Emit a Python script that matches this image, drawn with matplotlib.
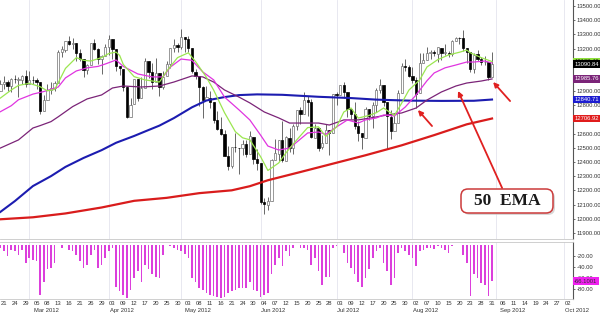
import numpy as np
import pandas as pd
import matplotlib
matplotlib.use("Agg")
import matplotlib.pyplot as plt
from matplotlib.patches import FancyBboxPatch
from matplotlib.transforms import IdentityTransform, blended_transform_factory

# ---------------- data (DJIA daily, Feb 17 2012 .. Aug 31 2012) ----------------
opens = [12904, 12950, 12965, 12938, 12984, 12981, 12981, 13005, 12952, 12980,
         12977, 12962, 12760, 12838, 12907, 12922, 12960, 13178, 13193, 13253,
         13233, 13239, 13170, 13124, 13046, 13081, 13241, 13197, 13126, 13146,
         13211, 13264, 13199, 13074, 13057, 12929, 12716, 12806, 12985, 12850,
         12921, 13113, 13032, 12964, 13028, 12928, 13003, 13090, 13204, 13228,
         13214, 13279, 13268, 13206, 13035, 13008, 12932, 12835, 12854, 12820,
         12695, 12632, 12598, 12442, 12369, 12504, 12502, 12496, 12530, 12455,
         12580, 12419, 12391, 12118, 12101, 12127, 12415, 12460, 12553, 12411,
         12573, 12496, 12652, 12767, 12742, 12838, 12824, 12573, 12640, 12503,
         12535, 12626, 12604, 12880, 12871, 12943, 12896, 12772, 12736, 12653,
         12604, 12573, 12777, 12727, 12805, 12909, 12943, 12822, 12721, 12617,
         12677, 12889, 13075, 13073, 13008, 12976, 12885, 13096, 13118, 13167,
         13175, 13165, 13207, 13169, 13172, 13165, 13250, 13275, 13272, 13203,
         13173, 13057, 13158, 13124, 13103, 13107, 13002]
highs = [12980, 13005, 12976, 12992, 13016, 13002, 13013, 13052, 13040, 13010,
         12995, 12962, 12876, 12951, 12962, 12969, 13193, 13215, 13254, 13289,
         13275, 13239, 13195, 13124, 13092, 13242, 13264, 13206, 13155, 13229,
         13297, 13265, 13199, 13076, 13057, 12939, 12850, 12986, 12985, 12998,
         13131, 13115, 13098, 13133, 13028, 13043, 13114, 13205, 13268, 13239,
         13338, 13279, 13286, 13206, 13058, 13008, 12933, 12938, 12903, 12820,
         12760, 12716, 12624, 12510, 12504, 12606, 12502, 12556, 12557, 12619,
         12580, 12493, 12391, 12144, 12156, 12420, 12563, 12555, 12688, 12582,
         12638, 12665, 12768, 12787, 12895, 12866, 12843, 12668, 12640, 12588,
         12670, 12627, 12880, 12893, 12944, 12962, 12896, 12772, 12822, 12691,
         12604, 12786, 12777, 12826, 12921, 12986, 12943, 12822, 12769, 12743,
         12908, 13098, 13128, 13081, 13072, 12998, 13169, 13167, 13214, 13192,
         13189, 13208, 13207, 13235, 13185, 13260, 13281, 13280, 13330, 13204,
         13173, 13171, 13188, 13141, 13147, 13107, 13176]
lows = [12904, 12914, 12903, 12896, 12956, 12861, 12947, 12932, 12952, 12951,
        12913, 12740, 12760, 12838, 12880, 12903, 12960, 13142, 13178, 13225,
        13195, 13114, 13115, 12996, 13021, 13081, 13190, 13091, 13021, 13146,
        13155, 13123, 13039, 13016, 12900, 12710, 12716, 12806, 12831, 12850,
        12921, 12992, 12914, 12964, 12868, 12917, 13003, 13060, 13175, 13175,
        13196, 13175, 13173, 13030, 12988, 12797, 12710, 12835, 12781, 12678,
        12624, 12589, 12440, 12345, 12359, 12472, 12314, 12450, 12433, 12455,
        12384, 12343, 12107, 12035, 12063, 12127, 12415, 12406, 12404, 12411,
        12468, 12455, 12629, 12665, 12742, 12726, 12571, 12573, 12478, 12489,
        12535, 12447, 12604, 12802, 12871, 12853, 12718, 12707, 12630, 12551,
        12492, 12573, 12694, 12643, 12753, 12885, 12795, 12492, 12566, 12617,
        12677, 12889, 13040, 12997, 12956, 12778, 12885, 13096, 13117, 13126,
        13148, 13106, 13116, 13153, 13140, 13150, 13250, 13234, 13182, 13095,
        13032, 13029, 13114, 13082, 13087, 12981, 13002]
closes = [12949.87, 12965.69, 12938.67, 12984.69, 12982.95, 12981.51, 13005.12, 12952.07, 12980.30, 12977.57,
          12962.81, 12759.15, 12837.33, 12907.94, 12922.02, 12959.71, 13177.68, 13194.10, 13252.76, 13232.62,
          13239.13, 13170.19, 13124.62, 13046.14, 13080.73, 13241.63, 13197.73, 13126.21, 13145.82, 13212.04,
          13264.49, 13199.55, 13074.75, 13060.14, 12929.59, 12715.93, 12805.39, 12986.58, 12849.59, 12921.41,
          13115.54, 13032.75, 12964.10, 13029.26, 12927.17, 13001.56, 13090.72, 13204.62, 13228.31, 13213.63,
          13279.32, 13268.57, 13206.59, 13038.27, 13008.53, 12932.09, 12835.06, 12855.04, 12820.60, 12695.35,
          12632.00, 12598.55, 12442.49, 12369.38, 12504.48, 12502.81, 12496.15, 12529.75, 12454.83, 12580.69,
          12419.86, 12393.45, 12118.57, 12101.46, 12127.95, 12414.79, 12460.96, 12554.20, 12411.23, 12573.80,
          12496.38, 12651.91, 12767.17, 12741.82, 12837.33, 12824.39, 12573.57, 12640.78, 12502.66, 12534.67,
          12627.01, 12602.26, 12880.09, 12871.39, 12943.82, 12896.67, 12772.47, 12736.29, 12653.12, 12604.53,
          12573.27, 12777.09, 12727.21, 12805.54, 12908.70, 12943.36, 12822.57, 12721.46, 12617.32, 12676.05,
          12887.93, 13075.66, 13073.01, 13008.68, 12976.13, 12878.88, 13096.17, 13117.51, 13168.60, 13175.64,
          13165.19, 13207.95, 13169.43, 13172.14, 13164.78, 13250.11, 13275.20, 13271.64, 13203.58, 13172.76,
          13057.46, 13157.97, 13124.67, 13102.99, 13107.48, 13000.71, 13090.84]

# oscillator (lower panel)
osc = [-6, -12, -21, -9, -12, -18, -9, -33, -24, -27,
       -30, -91, -67, -45, -42, -33, -1, -6, -1, -9,
       -11, -18, -30, -42, -36, -18, -9, -42, -36, -24,
       -12, -6, -76, -85, -91, -96, -82, -61, -48, -67,
       -36, -45, -54, -58, -61, -18, -1, -3, -6, -9,
       -12, -17, -24, -61, -67, -79, -82, -88, -91, -94,
       -95, -96, -95, -88, -85, -82, -79, -79, -78, -67,
       -82, -85, -95, -91, -88, -54, -36, -24, -39, -12,
       -21, -6, -1, -6, -6, -9, -36, -24, -48, -73,
       -58, -58, -6, -3, -1, -15, -33, -42, -54, -67,
       -76, -61, -45, -24, -12, -6, -33, -48, -73, -61,
       -15, -6, -12, -18, -24, -39, -12, -9, -6, -6,
       -7, -3, -6, -9, -15, -3, -1, -1, -18, -33,
       -94, -54, -61, -70, -73, -94, -66.1001]

# moving-average lines, sampled at bar positions (bar 0 = Feb 21)
green_idx = [-1, 2, 4, 7, 10, 12, 14, 15, 17, 20, 22, 24, 27, 29, 31, 32, 33, 36, 39, 43,
             45, 48, 51, 53, 56, 58, 61, 64, 66, 68, 71, 73, 76, 78, 81, 84, 87, 89, 92, 94,
             96, 98, 101, 103, 105, 108, 110, 112, 115, 117, 120, 123, 126, 128, 129, 132, 135]
green_val = [12851, 12908, 12940, 12955, 12931, 12902, 12912, 12959, 13060, 13136,
             13117, 13112, 13136, 13165, 13175, 13151, 13088, 13002, 12979, 12964,
             13040, 13136, 13170, 13108, 12997, 12907, 12748, 12614, 12571, 12557,
             12437, 12341, 12394, 12465, 12557, 12643, 12648, 12581, 12648, 12753,
             12781, 12710, 12729, 12748, 12781, 12729, 12815, 12907, 12979, 13070,
             13122, 13155, 13174, 13189, 13170, 13136, 13108.40]
magenta_idx = [-1, 2, 4, 8, 11, 15, 17, 20, 23, 26, 28, 31, 33, 37, 41, 44, 46, 49, 52, 55,
               58, 61, 65, 68, 71, 73, 76, 79, 81, 84, 87, 89, 92, 95, 98, 100, 103, 105, 108,
               111, 114, 117, 119, 122, 125, 128, 130, 133, 135]
magenta_val = [12755, 12797, 12839, 12879, 12897, 12929, 12993, 13042, 13064, 13074,
               13091, 13119, 13074, 13021, 13000, 13000, 13069, 13126, 13117, 13035,
               12979, 12858, 12768, 12697, 12589, 12513, 12485, 12499, 12541, 12605,
               12612, 12595, 12648, 12697, 12675, 12697, 12711, 12732, 12725, 12788,
               12873, 12973, 13028, 13064, 13084, 13105, 13105, 13112, 13098]
ema50_idx = [-1, 4, 8, 10, 13, 15, 19, 23, 27, 30, 33, 38, 43, 47, 52, 55, 58, 61, 65, 68,
             72, 76, 79, 83, 87, 90, 94, 98, 103, 106, 110, 114, 117, 121, 125, 128, 132, 135]
ema50_val = [12499, 12556, 12640, 12657, 12685, 12719, 12791, 12845, 12873, 12922,
             12936, 12929, 12936, 12964, 13007, 13000, 12964, 12908, 12858, 12817,
             12753, 12711, 12675, 12675, 12675, 12661, 12697, 12697, 12718, 12732,
             12746, 12781, 12837, 12894, 12936, 12957, 12971, 12985.76]
blue_idx = [-1, 3, 8, 13, 17, 22, 27, 31, 36, 40, 43, 47, 52, 56, 61, 65, 70, 77, 87, 96,
            103, 112, 121, 130, 135]
blue_val = [12049, 12125, 12231, 12301, 12366, 12429, 12484, 12536, 12584, 12626,
            12657, 12710, 12786, 12834, 12858, 12872, 12877, 12874, 12860, 12851,
            12840, 12833, 12831, 12832, 12840.71]
red_idx = [-1, 8, 17, 27, 36, 45, 54, 63, 68, 73, 82, 91, 100, 110, 119, 128, 135]
red_val = [11997, 12011, 12038, 12080, 12127, 12148, 12181, 12201, 12230, 12272,
           12330, 12389, 12448, 12518, 12590, 12666, 12706.92]

price_ticks = list(range(11900, 13501, 100))
osc_ticks = [-20, -40, -60, -80]
callout_text = "50  EMA"

# ---------------- calendar ----------------
holidays = ["2012-02-20", "2012-04-06", "2012-05-28", "2012-07-04", "2012-09-03"]
dates = pd.bdate_range("2012-02-17", "2012-10-05", freq="C", holidays=holidays)
date_pos = np.arange(len(dates)) - 1          # Feb 17 -> -1, Feb 21 -> 0

SANS = ["Liberation Sans", "DejaVu Sans"]
FS = 4.2

fig = plt.figure(figsize=(6.0, 3.13), dpi=100)
fig.patch.set_facecolor("white")
ax = fig.add_axes([0.0, 1 - 239 / 313, 573 / 600, 239 / 313])
ax2 = fig.add_axes([0.0, 1 - 299 / 313, 573 / 600, 57 / 313])

XL = (-1.107, 157.4)
for a in (ax, ax2):
    a.set_xlim(*XL)
    a.set_facecolor("white")
    for s in ("left", "top"):
        a.spines[s].set_visible(False)
    a.spines["right"].set_color("#555555")
    a.spines["right"].set_linewidth(0.8)
    a.spines["bottom"].set_color("#c8c8c8")
    a.spines["bottom"].set_linewidth(0.6)
    a.set_xticks([])
ax2.spines["top"].set_visible(True)
ax2.spines["top"].set_color("#c8c8c8")
ax2.spines["top"].set_linewidth(0.6)

# faint month grid
for i in range(1, len(dates)):
    if dates[i].month != dates[i - 1].month:
        for a in (ax, ax2):
            a.axvline(date_pos[i], color="#e4e4ee", lw=0.6, zorder=0)

# ---------------- candles ----------------
o = np.array(opens, float)
h = np.array(highs, float)
l = np.array(lows, float)
c = np.array(closes, float)
bx = date_pos[:len(c)]
up = c >= o
ax.vlines(bx, l, h, color="#404040", lw=0.55, zorder=3)
ax.bar(bx[up], np.maximum(c - o, 2)[up], bottom=o[up], width=0.62,
       color="white", edgecolor="#707070", linewidth=0.5, zorder=4)
ax.bar(bx[~up], np.maximum(o - c, 2)[~up], bottom=c[~up], width=0.62,
       color="black", edgecolor="black", linewidth=0.5, zorder=4)

# ---------------- MA lines ----------------
ax.plot(red_idx, red_val, color="#d91c1c", lw=1.6, zorder=5)
ax.plot(blue_idx, blue_val, color="#1c1cb0", lw=1.5, zorder=5)
ax.plot(ema50_idx, ema50_val, color="#7b2478", lw=0.9, zorder=6)
ax.plot(magenta_idx, magenta_val, color="#e035e0", lw=0.9, zorder=6)
ax.plot(green_idx, green_val, color="#9be650", lw=0.9, zorder=6)

ax.set_ylim(11858, 13542)
ax.yaxis.tick_right()
ax.set_yticks(price_ticks)
ax.set_yticklabels([f"{v:.2f}" for v in price_ticks])
ax.tick_params(axis="y", length=1.5, width=0.5, pad=1.0, labelsize=FS,
               colors="#333333")
for t in ax.get_yticklabels():
    t.set_family(SANS)


def value_box(a, y, text, fc, tc="white"):
    a.text(1.002, y, text, transform=a.get_yaxis_transform(), ha="left",
           va="center", fontsize=FS, color=tc, family=SANS,
           bbox=dict(boxstyle="square,pad=0.2", fc=fc, ec="none"),
           clip_on=False, zorder=20)


value_box(ax, green_val[-1], f"{green_val[-1]:.2f}", "#8fe03a", "#222222")
value_box(ax, closes[-1], f"{closes[-1]:.2f}", "black")
value_box(ax, ema50_val[-1], f"{ema50_val[-1]:.2f}", "#7b2478")
value_box(ax, blue_val[-1], f"{blue_val[-1]:.2f}", "#1c1cd0")
value_box(ax, red_val[-1], f"{red_val[-1]:.2f}", "#e01c1c")

# ---------------- annotation: arrows + callout ----------------
akw = dict(arrowstyle="-|>", color="#e02020", lw=1.3, mutation_scale=7,
           shrinkA=0, shrinkB=0)
ax.annotate("", xy=(114.5, 12767), xytext=(118.4, 12654), arrowprops=akw,
            annotation_clip=False, zorder=8)
ax.annotate("", xy=(125.6, 12901), xytext=(137.8, 12217), arrowprops=akw,
            annotation_clip=False, zorder=8)
ax.annotate("", xy=(135.3, 12964), xytext=(140.0, 12830), arrowprops=akw,
            annotation_clip=False, zorder=8)

H = 313
shadow = FancyBboxPatch((463, H - 215), 92, 24, boxstyle="round,pad=0,rounding_size=7",
                        transform=IdentityTransform(), fc="#c8c8c8", ec="none",
                        alpha=0.7, zorder=9)
box = FancyBboxPatch((461, H - 213), 92, 24, boxstyle="round,pad=0,rounding_size=7",
                     transform=IdentityTransform(), fc="white", ec="#cc3b3b",
                     lw=1.1, zorder=10)
fig.add_artist(shadow)
fig.add_artist(box)
fig.text(507 / 600, 1 - 201 / 313, callout_text, ha="center", va="center",
         fontsize=12.5, fontweight="bold", family=["Liberation Serif", "DejaVu Serif"],
         color="#1a1a1a", zorder=11)

# ---------------- lower oscillator ----------------
ax2.bar(date_pos[:len(osc)], osc, width=0.45, color="#dc3fdc", zorder=3)
ax2.set_ylim(-98.7, 4.9)
ax2.yaxis.tick_right()
ax2.set_yticks(osc_ticks)
ax2.set_yticklabels([f"{v:.2f}" for v in osc_ticks])
ax2.tick_params(axis="y", length=1.5, width=0.5, pad=1.0, labelsize=FS,
                colors="#333333")
for t in ax2.get_yticklabels():
    t.set_family(SANS)
value_box(ax2, osc[-1], f"{osc[-1]:.4f}", "#f020f0", "#333333")

# date labels
tr = blended_transform_factory(ax2.transData, ax2.transAxes)
prev_month = None
for k in range(0, 157, 3):
    d = dates[k + 1]
    ax2.text(k, -0.08, d.strftime("%d"), transform=tr, ha="center", va="center",
             fontsize=FS, color="#333333", family=SANS, clip_on=False)
    if prev_month is not None and d.month != prev_month:
        ax2.text(k - 0.8, -0.195, d.strftime("%b %Y"), transform=tr, ha="left",
                 va="center", fontsize=FS, color="#333333", family=SANS,
                 clip_on=False)
    prev_month = d.month

fig.savefig("out.png", dpi=100, facecolor="white")
